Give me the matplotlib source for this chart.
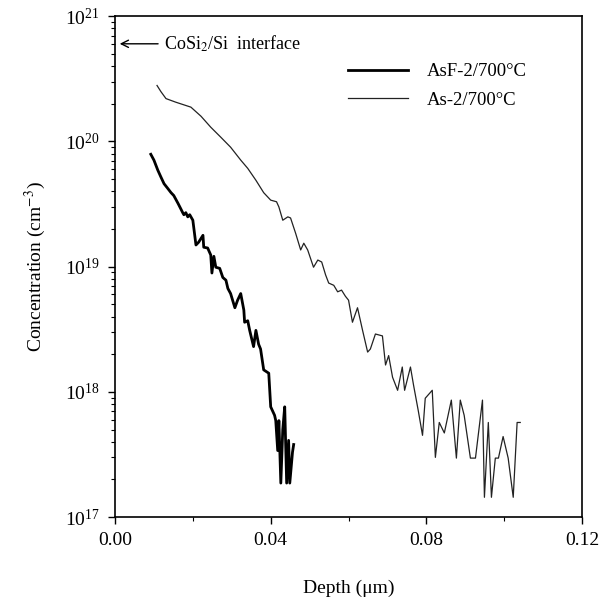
import matplotlib.pyplot as plt
import matplotlib.ticker as mticker
import numpy as np

plt.rcParams['font.family'] = ['Liberation Serif', 'DejaVu Serif']
plt.rcParams['mathtext.fontset'] = 'stix'

# AsF-2 / 700 C  (thick line)
asf_depth = [0.0092, 0.0100, 0.0110, 0.0118, 0.0126, 0.0136, 0.0144, 0.0151, 0.0162, 0.0169,
             0.0174, 0.0177, 0.0182, 0.0187, 0.0192, 0.0200, 0.0208, 0.0215, 0.0226, 0.0228,
             0.0238, 0.0246, 0.0249, 0.0254, 0.0259, 0.0269, 0.0277, 0.0285, 0.0290, 0.0297,
             0.0308, 0.0315, 0.0323, 0.0331, 0.0333, 0.0341, 0.0346, 0.0356, 0.0362, 0.0369,
             0.0374, 0.0382, 0.0395, 0.0400, 0.0410, 0.0413, 0.0418, 0.0421, 0.0426, 0.0431,
             0.0436, 0.0441, 0.0446, 0.0449, 0.0456, 0.0459]
asf_conc = [7.9e19, 7.1e19, 5.9e19, 5.2e19, 4.6e19, 4.2e19, 3.9e19, 3.7e19, 3.2e19, 2.9e19,
            2.7e19, 2.6e19, 2.7e19, 2.5e19, 2.6e19, 2.35e19, 1.49e19, 1.57e19, 1.78e19, 1.43e19,
            1.41e19, 1.24e19, 8.9e18, 1.21e19, 9.9e18, 9.7e18, 8.2e18, 7.8e18, 6.7e18, 6.1e18,
            4.7e18, 5.4e18, 6.1e18, 4.5e18, 3.6e18, 3.7e18, 3.1e18, 2.3e18, 3.1e18, 2.4e18,
            2.2e18, 1.5e18, 1.41e18, 7.6e17, 6.5e17, 5.9e17, 3.4e17, 5.9e17, 1.87e17, 5.0e17,
            7.6e17, 1.87e17, 4.1e17, 1.87e17, 3.3e17, 3.8e17]

# As-2 / 700 C  (thin line)
as_depth = [0.0108, 0.0118, 0.0131, 0.0156, 0.0195, 0.0221, 0.0246, 0.0272, 0.0297, 0.0323,
            0.0341, 0.0362, 0.0382, 0.0400, 0.0415, 0.0421, 0.0431, 0.0444, 0.0451, 0.0464,
            0.0477, 0.0485, 0.0495, 0.0510, 0.0521, 0.0531, 0.0541, 0.0549, 0.0562, 0.0572,
            0.0582, 0.0592, 0.0600, 0.0610, 0.0623, 0.0636, 0.0649, 0.0656, 0.0669, 0.0687,
            0.0695, 0.0703, 0.0713, 0.0726, 0.0738, 0.0744, 0.0759, 0.0767, 0.0779, 0.0790,
            0.0797, 0.0815, 0.0823, 0.0833, 0.0846, 0.0864, 0.0877, 0.0887, 0.0897, 0.0913,
            0.0926, 0.0944, 0.0949, 0.0959, 0.0967, 0.0977, 0.0985, 0.0997, 0.1010, 0.1023,
            0.1033, 0.1041]
as_conc = [2.8e20, 2.5e20, 2.2e20, 2.06e20, 1.88e20, 1.59e20, 1.30e20, 1.08e20, 9.0e19, 7.1e19,
           6.1e19, 4.9e19, 3.9e19, 3.4e19, 3.3e19, 3.0e19, 2.35e19, 2.5e19, 2.45e19, 1.85e19,
           1.36e19, 1.54e19, 1.36e19, 9.9e18, 1.13e19, 1.09e19, 8.6e18, 7.4e18, 7.1e18, 6.3e18,
           6.5e18, 5.8e18, 5.4e18, 3.6e18, 4.7e18, 3.1e18, 2.08e18, 2.2e18, 2.9e18, 2.8e18,
           1.64e18, 1.95e18, 1.31e18, 1.03e18, 1.58e18, 1.03e18, 1.58e18, 1.13e18, 7.1e17, 4.5e17,
           8.9e17, 1.03e18, 3.0e17, 5.7e17, 4.7e17, 8.6e17, 2.96e17, 8.6e17, 6.5e17, 2.96e17,
           2.96e17, 8.6e17, 1.44e17, 5.7e17, 1.44e17, 2.96e17, 2.96e17, 4.4e17, 2.96e17, 1.44e17,
           5.7e17, 5.7e17]

x_ticks = [0.00, 0.04, 0.08, 0.12]

fig = plt.figure(figsize=(6.02, 6.02), dpi=100)
ax = fig.add_axes([0.191, 0.141, 0.776, 0.832])

ax.plot(asf_depth, asf_conc, color='black', lw=2.0, label='AsF-2/700°C')
ax.plot(as_depth, as_conc, color='#222222', lw=0.9, label='As-2/700°C')

ax.set_yscale('log')
ax.set_xlim(0, 0.12)
ax.set_ylim(1e17, 1e21)
ax.set_xticks(x_ticks)
ax.xaxis.set_major_formatter(mticker.FormatStrFormatter('%.2f'))
ax.xaxis.set_minor_locator(mticker.MultipleLocator(0.02))
ax.yaxis.set_major_locator(mticker.LogLocator(base=10, numticks=10))
ax.yaxis.set_minor_locator(mticker.LogLocator(base=10, subs=np.arange(2, 10), numticks=20))
ax.yaxis.set_minor_formatter(mticker.NullFormatter())
ax.yaxis.set_major_formatter(mticker.LogFormatterMathtext())

ax.tick_params(axis='both', which='major', direction='out', length=5, width=1, labelsize=14, pad=6)
ax.tick_params(axis='both', which='minor', direction='out', length=3, width=0.8)
for s in ax.spines.values():
    s.set_linewidth(1.2)

ax.set_xlabel('Depth (μm)', fontsize=14, labelpad=22)
ax.set_ylabel('Concentration (cm$^{-3}$)', fontsize=14, labelpad=12)

ax.annotate('CoSi$_2$/Si  interface', xy=(0.0005, 10**20.78), xytext=(0.0125, 10**20.78),
            fontsize=13, va='center',
            arrowprops=dict(arrowstyle='->', color='black', lw=1.0))

ax.legend(loc='upper left', bbox_to_anchor=(0.478, 0.925), frameon=False, fontsize=13.5,
          handlelength=3.2, handletextpad=1.0, labelspacing=0.6, borderpad=0)

fig.savefig('out.png', dpi=100)
